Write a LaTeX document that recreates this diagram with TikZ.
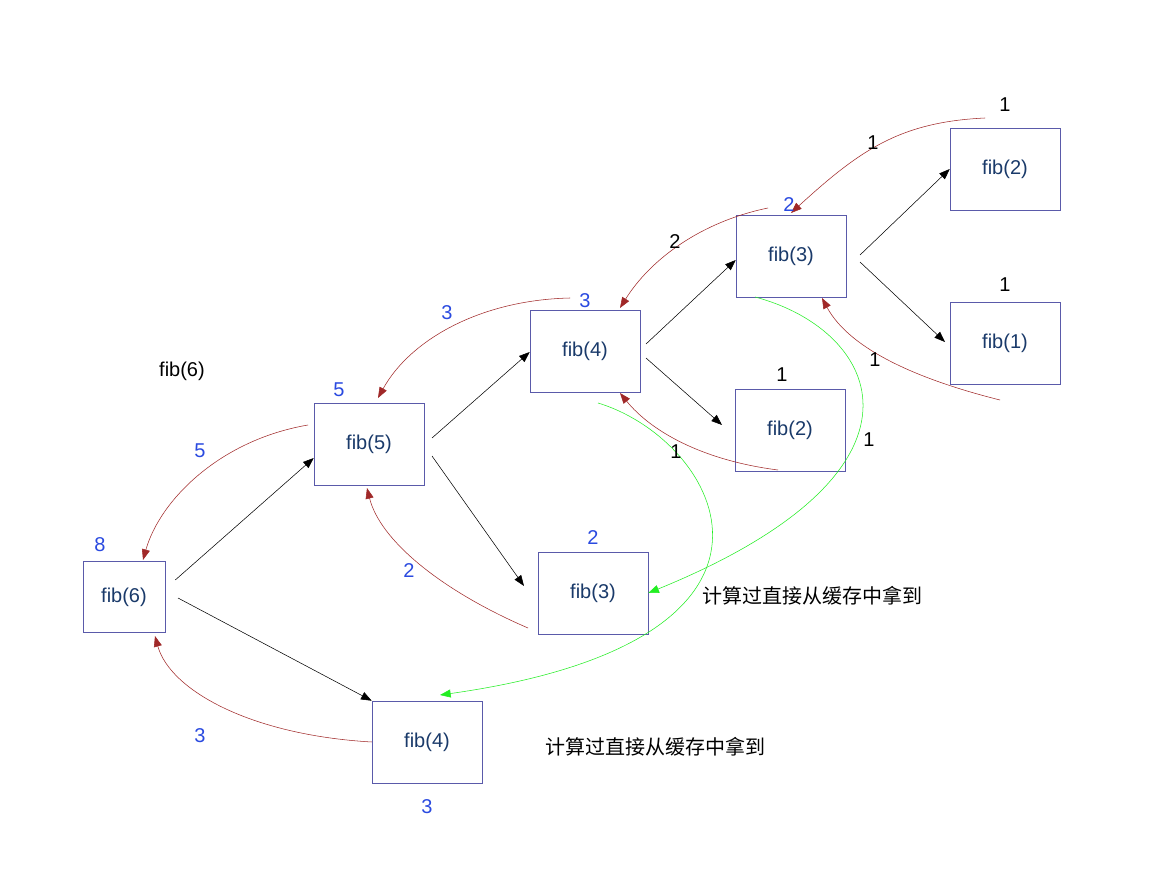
\documentclass[tikz,border=0pt]{standalone}
\usepackage{fontspec}
\setmainfont{Liberation Sans}
\newfontfamily\cjk{Noto Sans CJK SC}
\usetikzlibrary{arrows.meta}
\definecolor{boxc}{HTML}{5A5AAA}
\definecolor{txtc}{HTML}{1A3A6A}
\definecolor{redc}{HTML}{A02828}
\definecolor{bluec}{HTML}{2A4AE0}
\definecolor{grnc}{HTML}{22EE22}
\begin{document}
\begin{tikzpicture}[x=0.75pt,y=-0.75pt,
 fb/.style={draw=boxc,fill=white,minimum width=82.5pt,minimum height=61.5pt,text=txtc,font=\fontsize{15}{18}\selectfont},
 lb/.style={font=\fontsize{15}{18}\selectfont},
 bl/.style={lb,text=bluec},
 blk/.style={-{Triangle[length=8pt,width=6pt]},black},
 rd/.style={-{Triangle[length=8pt,width=6pt]},redc},
 gr/.style={-{Triangle[length=8pt,width=6pt]},grnc}]
\fill[white] (0,0) rectangle (1174,888);
\node[fb,minimum width=61.5pt,minimum height=53pt] (f6) at (124,597) {fib(6)};
\node[fb] (f5) at (369,444) {fib(5)};
\node[fb] (f4) at (585,351) {fib(4)};
\node[fb] (f3) at (791,256) {fib(3)};
\node[fb] (f2t) at (1005,169) {fib(2)};
\node[fb] (f1) at (1005,343) {fib(1)};
\node[fb] (f2m) at (790,430) {fib(2)};
\node[fb] (f3b) at (593,593) {fib(3)};
\node[fb] (f4b) at (427,742) {fib(4)};
% black calls
\draw[blk] (f6.east)+(10,-17) coordinate(a1) -- (f5.west|-0,458) coordinate(b1);
\draw[blk] (178,598) coordinate(a2) -- (f4b.north west);
\draw[blk] (432,438) coordinate(a3) -- (f4.west|-0,352) coordinate(b3);
\draw[blk] (432,456) coordinate(a4) -- (524,586) coordinate(b4);
\draw[blk] (646,344) coordinate(a5) -- (f3.west|-0,260) coordinate(b5);
\draw[blk] (646,358) coordinate(a6) -- (722,425) coordinate(b6);
\draw[blk] (860,255) coordinate(a7) -- (f2t.west);
\draw[blk] (860,262) coordinate(a8) -- (945,342) coordinate(b8);
% red returns
\coordinate (r1) at (985,118);
\draw[rd] (r1) .. controls (900,122) and (860,150) .. (f3.north|-0,213);
\draw[rd] (768,208) coordinate(r2) .. controls (700,222) and (650,260) .. (620,308);
\draw[rd] (570,298) coordinate(r3) .. controls (480,300) and (410,340) .. (378,398);
\draw[rd] (308,425) coordinate(r4) .. controls (220,440) and (160,500) .. (143,560);
\draw[rd] (f4b.west) .. controls (250,735) and (170,690) .. (155,636);
\draw[rd] (528,628) coordinate(r6) .. controls (440,590) and (380,540) .. (367,488);
\draw[rd] (778,470) coordinate(r7) .. controls (700,460) and (650,430) .. (620,393);
\draw[rd] (1000,400) coordinate(r8) .. controls (920,380) and (850,350) .. (822,298);
% green
\draw[gr] (755,297) coordinate(g1) .. controls (880,330) and (950,470) .. (f3b.east);
\draw[gr] (598,403) coordinate(g2) .. controls (720,440) and (830,640) .. (440,695);
% labels
\node[bl] (l8) at (100,545) {8};
\node[bl] (l5) at (339,390) {5};
\node[bl] (l3a) at (585,301) {3};
\node[bl] (l2a) at (789,205) {2};
\node[bl] (l2b) at (593,538) {2};
\node[bl] (l3b) at (427,807) {3};
\node[bl] (c3) at (447,313) {3};
\node[bl] (c5) at (200,451) {5};
\node[bl] (c3b) at (200,736) {3};
\node[bl] (c2) at (409,571) {2};
\node[lb] (k1) at (1005,105) {1};
\node[lb] (k2) at (873,143) {1};
\node[lb] (k3) at (675,242) {2};
\node[lb] (k4) at (1005,285) {1};
\node[lb] (k5) at (782,375) {1};
\node[lb] (k6) at (875,360) {1};
\node[lb] (k7) at (869,440) {1};
\node[lb] (k8) at (676,452) {1};
\node[lb] (t6) at (182,371) {fib(6)};
\node[lb,font=\cjk\fontsize{15}{18}\selectfont] (m1) at (812,596) {计算过直接从缓存中拿到};
\node[lb,font=\cjk\fontsize{15}{18}\selectfont] (m2) at (655,747) {计算过直接从缓存中拿到};
\end{tikzpicture}
\end{document}
